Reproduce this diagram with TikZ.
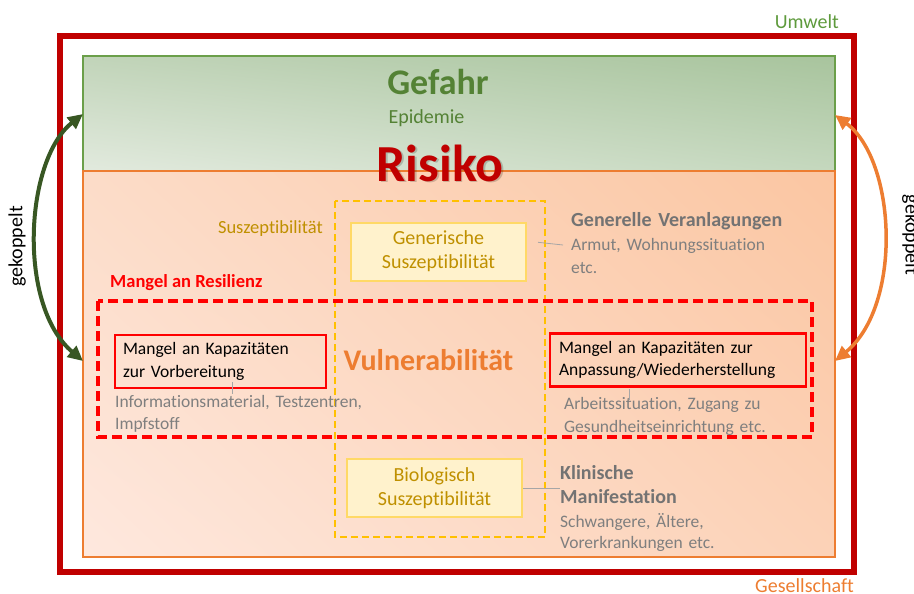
\documentclass[tikz,border=0pt]{standalone}
\usepackage{fontspec}
\setmainfont{Carlito}[Ligatures=NoCommon]
\usepackage{xcolor}
\usetikzlibrary{calc,arrows.meta,shadings}

\definecolor{riskred}{HTML}{C00000}
\definecolor{hazgreen}{HTML}{548235}
\definecolor{hazline}{HTML}{6B9F4A}
\definecolor{envgreen}{HTML}{5E9A3C}
\definecolor{darkgreen}{HTML}{385723}
\definecolor{socorange}{HTML}{ED7D31}
\definecolor{suszgold}{HTML}{BF9000}
\definecolor{suszdash}{HTML}{FFC000}
\definecolor{suszline}{HTML}{FFD966}
\definecolor{suszfill}{HTML}{FFF2CC}
\definecolor{greytext}{HTML}{7F7F7F}
\definecolor{greyhead}{HTML}{737373}
% field shading corners
\definecolor{hazUL}{HTML}{C1D4B9}
\definecolor{hazUR}{HTML}{A8C49D}
\definecolor{hazLL}{HTML}{E2EADE}
\definecolor{hazLR}{HTML}{C5D8BE}
\definecolor{vulUL}{HTML}{FCDCC8}
\definecolor{vulUR}{HTML}{FBC6A2}
\definecolor{vulLL}{HTML}{FEE8DE}
\definecolor{vulLR}{HTML}{FCD2B7}

\begin{document}
\begin{tikzpicture}[x=1pt,y=-1pt,
    lbl/.style={inner sep=0pt},
    grey/.style={inner sep=0pt, text=greytext, text width=260pt, align=left,
      font=\fontsize{17.5}{23}\selectfont},
    head/.style={inner sep=0pt, text=greyhead, text width=260pt, align=left,
      font=\bfseries\fontsize{20}{24}\selectfont},
    susz/.style={draw=suszline, fill=suszfill, line width=2pt, text=suszgold,
      minimum width=175pt, minimum height=58pt, align=center,
      font=\fontsize{20}{24}\selectfont},
    kap/.style={draw=red, line width=2.5pt, inner ysep=0pt, minimum height=53pt,
      align=left, font=\fontsize{17.5}{22.5}\selectfont},
    callout/.style={draw=black!35, line width=0.8pt},
    koppel/.style={line width=4pt,
      {Triangle[length=15pt,width=14pt]}-{Triangle[length=15pt,width=14pt]}}]
\useasboundingbox (0,0) rectangle (914,594);

% Gefahr (green) and Vulnerabilitaet (orange) fields
\shade[upper left=hazUL, upper right=hazUR, lower left=hazLL, lower right=hazLR]
  (83,56) rectangle (835,171);
\shade[upper left=vulUL, upper right=vulUR, lower left=vulLL, lower right=vulLR]
  (83,171) rectangle (835,557);
\draw[hazline, line width=2pt] (83,56) rectangle (835,171);
\draw[socorange, line width=2pt] (83,171) rectangle (835,557);

% outer frame
\draw[riskred, line width=6pt] (60,36.5) rectangle (854,572);

\node[lbl, anchor=base east, text=envgreen, font=\fontsize{20}{24}\selectfont] (umwelt) at (839,29) {Umwelt};
\node[lbl, anchor=base east, text=socorange, font=\fontsize{20}{24}\selectfont] (gesell) at (854,592) {Gesellschaft};

\node[lbl, anchor=base, text=hazgreen, font=\bfseries\fontsize{36}{40}\selectfont] (gefahr) at (438,95) {Gefahr};
\node[lbl, anchor=base, text=hazgreen, font=\fontsize{20}{24}\selectfont] (epi) at (426.5,124) {Epidemie};

% Risiko with soft shadow
\node[lbl, anchor=base, text=black, opacity=0.18, font=\bfseries\fontsize{52}{56}\selectfont] at (441.5,182.5) {Risiko};
\node[lbl, anchor=base, text=riskred, font=\bfseries\fontsize{52}{56}\selectfont] (risiko) at (440,181) {Risiko};

% Suszeptibilitaet
\draw[suszdash, line width=2.2pt, dash pattern=on 7pt off 4pt] (335,201) rectangle (545,537);
\node[lbl, anchor=base east, text=suszgold, font=\fontsize{18.5}{22}\selectfont] (susz) at (323,233) {Suszeptibilität};
\node[susz] (gen) at (438.5,251.5) {Generische\\Suszeptibilität};
\node[susz] (bio) at (434.5,488) {Biologisch\\Suszeptibilität};

% Mangel an Resilienz
\draw[red, line width=3.5pt, dash pattern=on 10pt off 5pt] (98,301) rectangle (812,437);
\node[lbl, anchor=base west, text=red, font=\bfseries\fontsize{18.5}{22}\selectfont] (resil) at (110,287) {Mangel an Resilienz};
\node[kap, inner xsep=8pt, text width=195pt] (vorb) at (220.5,361.5) {Mangel an Kapazitäten\\zur Vorbereitung};
\node[kap, inner xsep=9pt, text width=238pt] (anp) at (678,360) {Mangel an Kapazitäten zur\\Anpassung/Wiederherstellung};

\node[lbl, anchor=base, text=socorange, font=\bfseries\fontsize{30}{34}\selectfont] (vuln) at (428.5,370) {Vulnerabilität};

% grey notes
\node[head, anchor=base west] (genv) at (571,226.7) {Generelle Veranlagungen};
\node[grey, anchor=base west] (genvt) at (571,250.7) {Armut, Wohnungssituation\\etc.};
\node[grey, anchor=base west, font=\fontsize{17.5}{22}\selectfont] (vorbt) at (115,407.3) {Informationsmaterial, Testzentren,\\Impfstoff};
\node[grey, anchor=base west] (anpt) at (564,409) {Arbeitssituation, Zugang zu\\Gesundheitseinrichtung etc.};
\node[head, anchor=base west] (klin) at (560,479) {Klinische\\Manifestation};
\node[grey, anchor=base west, font=\fontsize{17.5}{21}\selectfont] (klint) at (560,527.3) {Schwangere, Ältere,\\Vorerkrankungen etc.};

% callout lines
\coordinate (genA) at (538,242.3);
\coordinate (genB) at (563,245);
\draw[callout] (genA) -- (genB);
\draw[callout] (bio.east) -- (bio.east -| klin.west);
\draw[callout] (232,382) -- (232,394);
\draw[callout] (629,389) -- (629,400);

% coupling arrows
\coordinate (gl) at (83,114);
\coordinate (vl) at (83,361);
\coordinate (gr) at (835,115);
\coordinate (vr) at (835,361);
\draw[koppel, darkgreen] (vl) .. controls (17,305) and (25,160) .. (gl);
\draw[koppel, socorange, line width=3.5pt] (vr) .. controls (903,305) and (896,160) .. (gr);
\node[lbl, rotate=90, anchor=base, font=\fontsize{20}{24}\selectfont] (kopl) at (22.5,246.5) {gekoppelt};
\node[lbl, rotate=-90, anchor=base, font=\fontsize{20}{24}\selectfont] (kopr) at (905.5,235) {gekoppelt};
\end{tikzpicture}
\end{document}
